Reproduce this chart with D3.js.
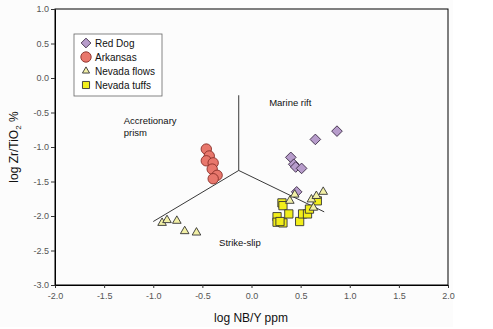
<!DOCTYPE html>
<html><head><meta charset="utf-8">
<script src="https://cdn.jsdelivr.net/npm/d3@7/dist/d3.min.js"></script>
<style>body{margin:0;background:#fff}svg{display:block}text{font-family:Arial,"Liberation Sans",sans-serif}</style>
</head><body>
<svg id="c" width="493" height="329"></svg>
<script>
const xTicks = [-2.0,-1.5,-1.0,-0.5,0.0,0.5,1.0,1.5,2.0];
const yTicks = [1.0,0.5,0.0,-0.5,-1.0,-1.5,-2.0,-2.5,-3.0];
const seriesNames = ["Red Dog","Arkansas","Nevada flows","Nevada tuffs"];
const redDog = [[0.87,-0.77],[0.65,-0.89],[0.40,-1.15],[0.43,-1.25],[0.45,-1.29],[0.51,-1.31],[0.46,-1.65]];
const arkansas = [[-0.46,-1.03],[-0.43,-1.13],[-0.46,-1.20],[-0.39,-1.23],[-0.40,-1.32],[-0.35,-1.41],[-0.39,-1.46]];
const nevadaFlows = [[-0.91,-2.10],[-0.86,-2.06],[-0.76,-2.07],[-0.68,-2.22],[-0.56,-2.24],
  [0.73,-1.65],[0.44,-1.69],[0.39,-1.78],[0.61,-1.76],[0.66,-1.71],[0.63,-1.88]];
const nevadaTuffs = [[0.31,-1.81],[0.32,-1.85],[0.26,-2.01],[0.26,-2.09],[0.32,-2.10],[0.29,-2.08],[0.38,-1.97],
  [0.49,-2.08],[0.52,-1.97],[0.57,-1.97],[0.59,-1.90],[0.67,-1.78]];
const junction = [-0.13,-1.34];
const fieldEnds = [[-0.13,-0.25],[-1.0,-2.08],[0.74,-1.94]];
const fieldLabels = [{t:["Marine rift"],p:[0.18,-0.40]},{t:["Accretionary","prism"],p:[-1.30,-0.67]},{t:["Strike-slip"],p:[-0.33,-2.43]}];

const svg = d3.select("#c");
const m = {l:55,t:9,r:448,b:285};
svg.append("rect").attr("x",0).attr("y",0).attr("width",453).attr("height",327).attr("fill","#fcfcfc");
const x = d3.scaleLinear().domain([-2,2]).range([m.l,m.r]);
const y = d3.scaleLinear().domain([-3,1]).range([m.b,m.t]);

svg.append("rect").attr("x",m.l).attr("y",m.t).attr("width",m.r-m.l).attr("height",m.b-m.t)
  .attr("fill","none").attr("stroke","#000").attr("stroke-width",1);

const xa = svg.append("g").attr("transform",`translate(0,${m.b})`)
  .call(d3.axisBottom(x).tickValues(xTicks).tickFormat(d3.format(".1f")).tickSize(3).tickSizeOuter(0));
const ya = svg.append("g").attr("transform",`translate(${m.l},0)`)
  .call(d3.axisLeft(y).tickValues(yTicks).tickFormat(d3.format(".1f")).tickSize(4).tickSizeOuter(0));
[xa,ya].forEach(a=>{
  a.select(".domain").attr("stroke","#000");
  a.selectAll(".tick line").attr("stroke","#333");
  a.selectAll("text").attr("fill","#555").style("font-size","9px").text(d=>d3.format(".1f")(d).replace("\u2212","-"));
});
xa.selectAll("text").attr("dy","0.9em");
ya.selectAll("text").attr("dx","0.1em");

svg.append("text").attr("x",251).attr("y",322).attr("text-anchor","middle").style("font-size","12px").attr("fill","#111").text("log NB/Y ppm");
const yt = svg.append("text").attr("transform","translate(18,147) rotate(-90)").attr("text-anchor","middle").style("font-size","12px").attr("fill","#111");
yt.append("tspan").text("log Zr/TiO");
yt.append("tspan").attr("dy","3").style("font-size","8px").text("2");
yt.append("tspan").attr("dy","-3").text(" %");

fieldEnds.forEach(e=>{
  svg.append("line").attr("x1",x(junction[0])).attr("y1",y(junction[1]))
    .attr("x2",x(e[0])).attr("y2",y(e[1])).attr("stroke","#222").attr("stroke-width",0.9);
});
fieldLabels.forEach(f=>{
  const t = svg.append("text").attr("x",x(f.p[0])).attr("y",y(f.p[1])).style("font-size","9.5px").attr("fill","#111");
  f.t.forEach((s,i)=>t.append("tspan").attr("x",x(f.p[0])).attr("dy",i?12:0).text(s));
});

const styles = [
  {sym:d3.symbolDiamond2, size:72, fill:"#b79ccb", stroke:"#3a2a44"},
  {sym:d3.symbolCircle, size:85, fill:"#e8776c", stroke:"#8a2f28"},
  {sym:d3.symbolTriangle, size:32, fill:"#f2f0a6", stroke:"#333"},
  {sym:d3.symbolSquare, size:68, fill:"#f2ee1a", stroke:"#333"}
];
const data = [redDog, arkansas, nevadaFlows, nevadaTuffs];
const order = [1,0,3,2];
order.forEach(i=>{
  const s = styles[i];
  svg.append("g").selectAll("path").data(data[i]).join("path")
    .attr("transform",d=>`translate(${x(d[0])},${y(d[1])})`)
    .attr("d",d3.symbol(s.sym,s.size)).attr("fill",s.fill).attr("stroke",s.stroke).attr("stroke-width",0.9);
});

const lg = svg.append("g");
lg.append("rect").attr("x",74).attr("y",34).attr("width",88).attr("height",62).attr("fill","#fff").attr("stroke","#666").attr("stroke-width",0.8);
const lsz = [60,85,22,50];
seriesNames.forEach((n,i)=>{
  const yy = 43+i*14;
  lg.append("path").attr("transform",`translate(86,${yy})`).attr("d",d3.symbol(styles[i].sym,lsz[i]))
    .attr("fill",styles[i].fill).attr("stroke",styles[i].stroke).attr("stroke-width",0.9);
  lg.append("text").attr("x",95).attr("y",yy+3.5).style("font-size","10px").attr("fill","#111").text(n);
});
</script>
</body></html>
